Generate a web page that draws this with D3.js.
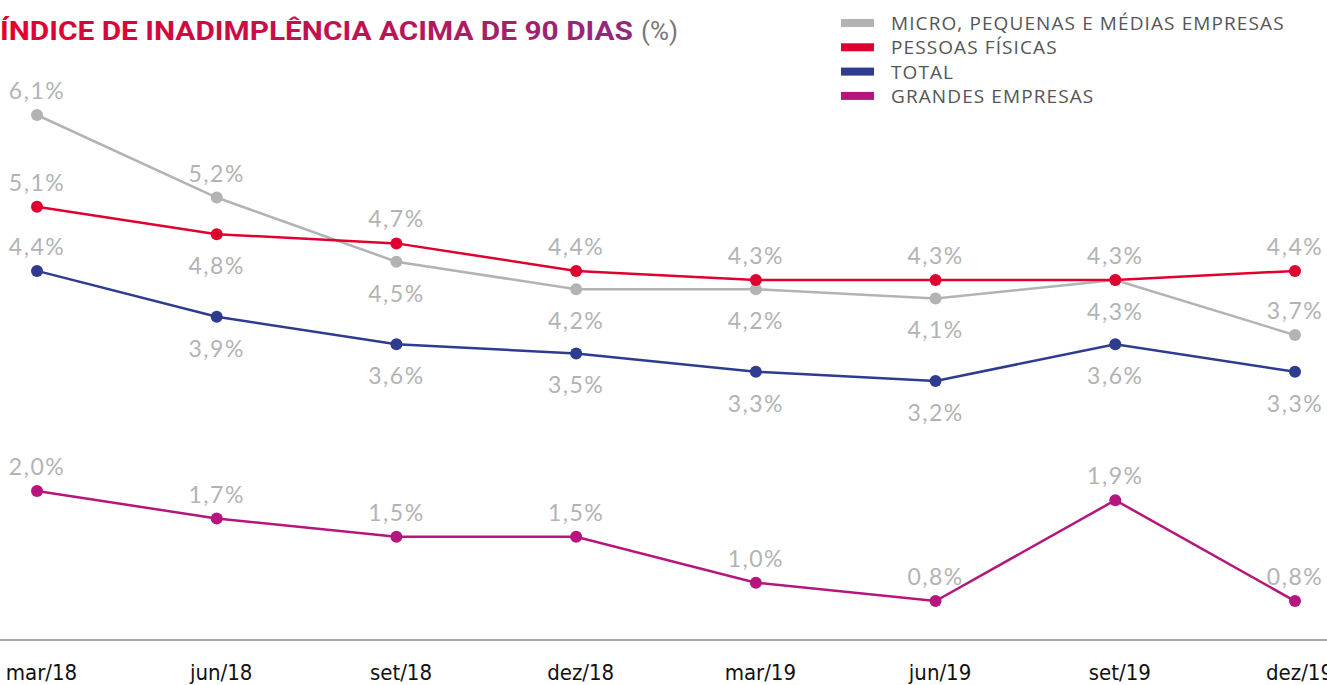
<!DOCTYPE html>
<html>
<head>
<meta charset="utf-8">
<script src="https://cdn.jsdelivr.net/npm/d3@7"></script>
<style>
  body { margin: 0; background: #fff; }
  svg { display: block; }
</style>
</head>
<body>
<svg width="1327" height="685"></svg>
<script>
var periods = ["mar/18", "jun/18", "set/18", "dez/18", "mar/19", "jun/19", "set/19", "dez/19"];

var seriesNames = ["MICRO, PEQUENAS E MÉDIAS EMPRESAS", "PESSOAS FÍSICAS", "TOTAL", "GRANDES EMPRESAS"];
var seriesColors = ["#b3b3b3", "#e0002f", "#2e3b8f", "#b5157c"];

var micro = [6.1, 5.2, 4.5, 4.2, 4.2, 4.1, 4.3, 3.7];
var pessoas = [5.1, 4.8, 4.7, 4.4, 4.3, 4.3, 4.3, 4.4];
var total = [4.4, 3.9, 3.6, 3.5, 3.3, 3.2, 3.6, 3.3];
var grandes = [2.0, 1.7, 1.5, 1.5, 1.0, 0.8, 1.9, 0.8];

/* where each value label goes: a = above the dot, b = below */
var microPos = ["a", "a", "b", "b", "b", "b", "b", "a"];
var pessoasPos = ["a", "b", "a", "a", "a", "a", "a", "a"];
var totalPos = ["a", "b", "b", "b", "b", "b", "b", "b"];
var grandesPos = ["a", "a", "a", "a", "a", "a", "a", "a"];

var svg = d3.select("svg"),
    width = +svg.attr("width"),
    height = +svg.attr("height");

var x = d3.scalePoint()
    .domain(periods)
    .range([37, 1295]);

var y = d3.scaleLinear()
    .domain([0, 6.1])
    .range([674.4, 115]);

var series = [
  {name: seriesNames[0], color: seriesColors[0], values: micro, pos: microPos},
  {name: seriesNames[1], color: seriesColors[1], values: pessoas, pos: pessoasPos},
  {name: seriesNames[2], color: seriesColors[2], values: total, pos: totalPos},
  {name: seriesNames[3], color: seriesColors[3], values: grandes, pos: grandesPos}
];

/* title with red -> purple gradient */
var defs = svg.append("defs");
var grad = defs.append("linearGradient")
    .attr("id", "titleGrad")
    .attr("gradientUnits", "userSpaceOnUse")
    .attr("x1", 0).attr("x2", 633).attr("y1", 0).attr("y2", 0);
grad.append("stop").attr("offset", "0%").attr("stop-color", "#e2002e");
grad.append("stop").attr("offset", "55%").attr("stop-color", "#c0124f");
grad.append("stop").attr("offset", "100%").attr("stop-color", "#8e2a80");

svg.append("text")
    .attr("x", 0)
    .attr("y", 40)
    .attr("textLength", 633)
    .attr("lengthAdjust", "spacingAndGlyphs")
    .attr("fill", "url(#titleGrad)")
    .style("font-family", "Roboto, 'Open Sans', sans-serif")
    .style("font-weight", "bold")
    .style("font-size", "26px")
    .text("ÍNDICE DE INADIMPLÊNCIA ACIMA DE 90 DIAS");
svg.append("text")
    .attr("x", 641)
    .attr("y", 40)
    .attr("fill", "#777")
    .style("font-family", "Roboto, 'Open Sans', sans-serif")
    .style("font-size", "26px")
    .text("(%)");

/* legend */
var legend = svg.append("g").attr("transform", "translate(841,23)");
var item = legend.selectAll("g")
  .data(series)
  .enter().append("g")
    .attr("transform", function(d, i) { return "translate(0," + (i * 24.3) + ")"; });
item.append("rect")
    .attr("x", 0).attr("y", -4)
    .attr("width", 33).attr("height", 8)
    .attr("fill", function(d) { return d.color; });
item.append("text")
    .attr("x", 50)
    .attr("y", 7)
    .attr("fill", "#555")
    .style("font-family", "'Open Sans', sans-serif")
    .style("font-size", "19px")
    .style("letter-spacing", "1.1px")
    .text(function(d) { return d.name; });

/* baseline */
svg.append("line")
    .attr("x1", 0).attr("x2", width)
    .attr("y1", 640).attr("y2", 640)
    .attr("stroke", "#aaa")
    .attr("stroke-width", 2);

/* x axis labels */
var xAxis = d3.axisBottom(x).tickSize(0).tickPadding(0);
var gx = svg.append("g")
    .attr("transform", "translate(0,664)")
    .call(xAxis);
gx.select(".domain").remove();
gx.selectAll("text")
    .attr("fill", "#111")
    .attr("dx", 4)
    .style("font-family", "'Liberation Sans Narrow', 'DejaVu Sans Condensed', sans-serif")
    .style("font-size", "22px");

var line = d3.line()
    .x(function(d, i) { return x(periods[i]); })
    .y(function(d) { return y(d); });

var grp = svg.selectAll("g.series")
  .data(series)
  .enter().append("g")
    .attr("class", "series");

grp.append("path")
    .attr("d", function(d) { return line(d.values); })
    .attr("fill", "none")
    .attr("stroke", function(d) { return d.color; })
    .attr("stroke-width", 2.5);

grp.selectAll("circle")
  .data(function(d) { return d.values.map(function(v) { return {v: v, color: d.color}; }); })
  .enter().append("circle")
    .attr("cx", function(d, i) { return x(periods[i]); })
    .attr("cy", function(d) { return y(d.v); })
    .attr("r", 6)
    .attr("fill", function(d) { return d.color; });

/* value labels */
var fmt = function(v) { return v.toFixed(1).replace(".", ",") + "%"; };
grp.selectAll("text.val")
  .data(function(d) { return d.values.map(function(v, i) { return {v: v, pos: d.pos[i]}; }); })
  .enter().append("text")
    .attr("class", "val")
    .attr("x", function(d, i) { return x(periods[i]); })
    .attr("y", function(d) { return y(d.v) + (d.pos == "a" ? -16 : 40); })
    .attr("text-anchor", "middle")
    .attr("fill", "#b3b3b3")
    .style("font-family", "Lato, 'Open Sans', sans-serif")
    .style("font-size", "23px")
    .style("letter-spacing", "1.5px")
    .text(function(d) { return fmt(d.v); });
</script>
</body>
</html>
